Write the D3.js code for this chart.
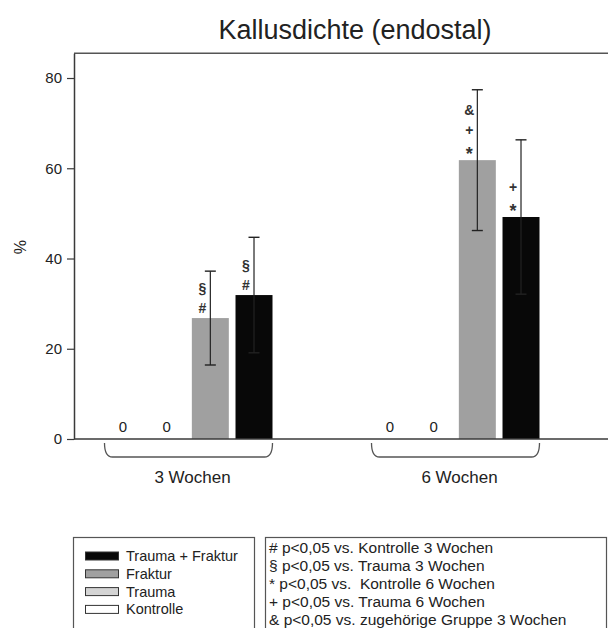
<!DOCTYPE html>
<html>
<head>
<meta charset="utf-8">
<script src="https://cdn.jsdelivr.net/npm/d3@7"></script>
<style>
  html, body { margin: 0; padding: 0; background: #fff; }
  svg { display: block; font-family: "Liberation Sans", Arial, sans-serif; }
</style>
</head>
<body>
<svg id="chart" width="608" height="628"></svg>
<script>
// Groups (time points) and treatment series
const groups = ["3 Wochen", "6 Wochen"];
const series = ["Kontrolle", "Trauma", "Fraktur", "Trauma + Fraktur"];

// Mean callus density (%) and standard deviation, per group, in series order
const means3 = [0, 0, 26.8, 31.9];
const sd3    = [0, 0, 10.4, 12.8];
const means6 = [0, 0, 61.8, 49.2];
const sd6    = [0, 0, 15.6, 17.1];

// Significance markers stacked above each bar (bottom to top)
const marks3 = [[], [], ["#", "§"], ["#", "§"]];
const marks6 = [[], [], ["*", "+", "&"], ["*", "+"]];

const yTicks = [0, 20, 40, 60, 80];

// Legend entries (top to bottom) and significance notes
const legendSeries = ["Trauma + Fraktur", "Fraktur", "Trauma", "Kontrolle"];
const notes = [
  "# p<0,05 vs. Kontrolle 3 Wochen",
  "§ p<0,05 vs. Trauma 3 Wochen",
  "* p<0,05 vs.  Kontrolle 6 Wochen",
  "+ p<0,05 vs. Trauma 6 Wochen",
  "& p<0,05 vs. zugehörige Gruppe 3 Wochen"
];

const fills = {
  "Kontrolle": "#ffffff",
  "Trauma": "#d4d4d4",
  "Fraktur": "#a0a0a0",
  "Trauma + Fraktur": "#080808"
};

const data = [
  { group: groups[0], means: means3, sd: sd3, marks: marks3 },
  { group: groups[1], means: means6, sd: sd6, marks: marks6 }
];

const svg = d3.select("#chart");
const axisColor = "#3a3a3a";
const textColor = "#222";

// Scales
const yMax = 85.5;
const y = d3.scaleLinear().domain([0, yMax]).range([439, 53.2]);
const x0 = d3.scaleBand().domain(groups).range([55, 589]);
const x1 = d3.scaleBand().domain(series).range([-84, 84]).paddingInner(0.153);
const gx = g => x0(g) + x0.bandwidth() / 2;

const plotLeft = 74, plotRight = 610;

// Title
svg.append("text")
  .attr("x", 355).attr("y", 39)
  .attr("text-anchor", "middle")
  .attr("font-size", 27)
  .attr("fill", textColor)
  .text("Kallusdichte (endostal)");

// Frame top line
svg.append("line")
  .attr("x1", plotLeft).attr("x2", plotRight)
  .attr("y1", y(yMax)).attr("y2", y(yMax))
  .attr("stroke", "#555").attr("stroke-width", 1.5);

// Y axis
const yAxis = svg.append("g")
  .attr("transform", `translate(${plotLeft},0)`)
  .call(d3.axisLeft(y).tickValues(yTicks).tickSize(7).tickSizeOuter(0).tickPadding(5));
yAxis.select(".domain").attr("stroke", axisColor).attr("stroke-width", 1.5);
yAxis.selectAll(".tick line").attr("stroke", axisColor).attr("stroke-width", 1.2);
yAxis.selectAll(".tick text")
  .attr("font-size", 15)
  .attr("font-family", "Liberation Sans, Arial, sans-serif")
  .attr("fill", textColor);

svg.append("text")
  .attr("transform", `translate(26,${y(42.5)}) rotate(-90)`)
  .attr("text-anchor", "middle")
  .attr("font-size", 16)
  .attr("fill", textColor)
  .text("%");

// Bars
const gGroups = svg.selectAll(".grp").data(data).join("g")
  .attr("class", "grp")
  .attr("transform", d => `translate(${gx(d.group)},0)`);

gGroups.each(function (d) {
  const g = d3.select(this);
  series.forEach((s, i) => {
    const m = d.means[i];
    const cx = x1(s) + x1.bandwidth() / 2;
    if (m === 0) {
      g.append("text")
        .attr("x", cx).attr("y", y(0) - 7)
        .attr("text-anchor", "middle")
        .attr("font-size", 15)
        .attr("fill", textColor)
        .text("0");
      return;
    }
    g.append("rect")
      .attr("x", x1(s)).attr("width", x1.bandwidth())
      .attr("y", y(m)).attr("height", y(0) - y(m))
      .attr("fill", fills[s]);
    // error bar
    const sd = d.sd[i];
    const capW = 11;
    g.append("line")
      .attr("x1", cx).attr("x2", cx)
      .attr("y1", y(m - sd)).attr("y2", y(m + sd))
      .attr("stroke", "#222").attr("stroke-width", 1.2);
    [m - sd, m + sd].forEach(v => {
      g.append("line")
        .attr("x1", cx - capW / 2).attr("x2", cx + capW / 2)
        .attr("y1", y(v)).attr("y2", y(v))
        .attr("stroke", "#222").attr("stroke-width", 1.4);
    });
    // significance markers
    d.marks[i].forEach((t, k) => {
      const yc = y(m) - 10 - 20 * k;
      g.append("text")
        .attr("x", cx - 8)
        .attr("y", yc + (t === "*" ? 10 : 5))
        .attr("text-anchor", "middle")
        .attr("font-size", t === "*" ? 18 : 14)
        .attr("font-weight", "bold")
        .attr("fill", "#333")
        .text(t);
    });
  });
});

// Baseline drawn over bars
svg.append("line")
  .attr("x1", plotLeft).attr("x2", plotRight)
  .attr("y1", y(0)).attr("y2", y(0))
  .attr("stroke", axisColor).attr("stroke-width", 1.5);

// Group braces and labels
gGroups.each(function (d) {
  const g = d3.select(this);
  const xa = x1(series[0]);
  const xb = x1(series[series.length - 1]) + x1.bandwidth();
  const top = y(0) + 4, bot = y(0) + 18, r = 8;
  const p = d3.path();
  p.moveTo(xa, top);
  p.quadraticCurveTo(xa, bot, xa + r, bot);
  p.lineTo(xb - r, bot);
  p.quadraticCurveTo(xb, bot, xb, top);
  g.append("path").attr("d", p.toString())
    .attr("fill", "none").attr("stroke", "#555").attr("stroke-width", 1.3);
  g.append("text")
    .attr("x", 4).attr("y", y(0) + 44)
    .attr("text-anchor", "middle")
    .attr("font-size", 17)
    .attr("fill", textColor)
    .text(d.group);
});

// Series legend
const lg = svg.append("g");
lg.append("rect")
  .attr("x", 73.5).attr("y", 537.5).attr("width", 181).attr("height", 100)
  .attr("fill", "none").attr("stroke", "#555").attr("stroke-width", 1.2);
legendSeries.forEach((s, i) => {
  const cy = 556 + 17.8 * i;
  lg.append("rect")
    .attr("x", 85.5).attr("y", cy - 4).attr("width", 33).attr("height", 8)
    .attr("fill", fills[s]).attr("stroke", "#333").attr("stroke-width", 1);
  lg.append("text")
    .attr("x", 126).attr("y", cy + 5)
    .attr("font-size", 14.5)
    .attr("fill", textColor)
    .text(s);
});

// Significance legend
const ng = svg.append("g");
ng.append("rect")
  .attr("x", 265.5).attr("y", 537.5).attr("width", 341).attr("height", 100)
  .attr("fill", "none").attr("stroke", "#555").attr("stroke-width", 1.2);
notes.forEach((t, i) => {
  ng.append("text")
    .attr("x", 269).attr("y", 553 + 18 * i)
    .attr("font-size", 15.5)
    .attr("fill", textColor)
    .attr("xml:space", "preserve")
    .style("white-space", "pre")
    .text(t);
});
</script>
</body>
</html>
